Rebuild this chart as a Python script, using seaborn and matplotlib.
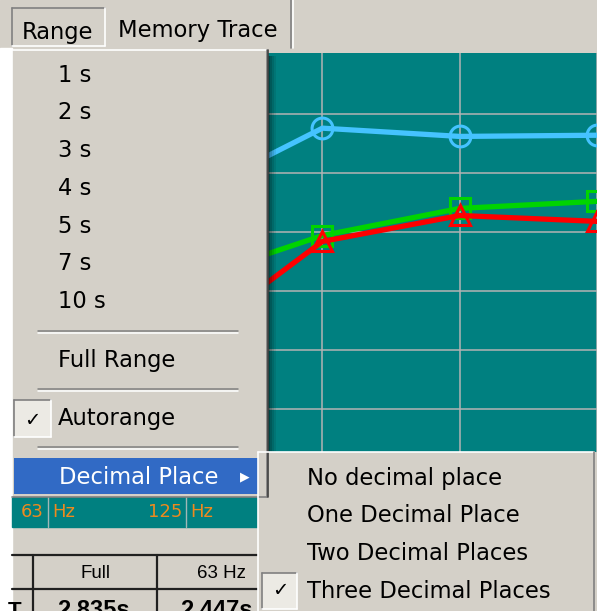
import numpy as np
import pandas as pd
import matplotlib
matplotlib.use("Agg")
import matplotlib.pyplot as plt
from matplotlib.patches import Rectangle
import seaborn as sns

# ------------------------------------------------------------------ #
# Dados (tempo de reverberação por banda de oitava, em segundos)
# ------------------------------------------------------------------ #
bandas = ["63 Hz", "125 Hz", "250 Hz", "500 Hz", "1 kHz"]
traco_azul = [2.45, 2.29, 2.88, 2.81, 2.82]
traco_verde = [1.35, 1.58, 1.97, 2.20, 2.26]
traco_vermelho = [0.80, 1.05, 1.92, 2.14, 2.09]
nomes_series = ["Current", "Memory 1", "Memory 2"]
cores_series = ["#45C3FF", "#00D400", "#FF0000"]
marcadores_series = ["o", "s", "^"]

itens_range = ["1 s", "2 s", "3 s", "4 s", "5 s", "7 s", "10 s"]
itens_decimal = ["No decimal place", "One Decimal Place",
                 "Two Decimal Places", "Three Decimal Places"]
cabecalho_tabela = ["Full", "63 Hz"]
valores_tabela = ["2.835s", "2.447s"]

W, H = 597, 611
CINZA = "#D4D0C8"
TEAL = "#008080"
AZUL_SEL = "#316AC5"
LARANJA = "#EE8A1E"
FS_MENU = 16.3


def caixa(x0, y0, x1, y1):
    """Converte pixels (origem no topo) em fração da figura."""
    return [x0 / W, 1 - y1 / H, (x1 - x0) / W, (y1 - y0) / H]


def ret(ax, x0, y0, x1, y1, **kw):
    ax.add_patch(Rectangle((x0, y0), x1 - x0, y1 - y0, **kw))


def moldura_3d(ax, x0, y0, x1, y1, elevada=True):
    claro, escuro = ("white", "#808080") if elevada else ("#808080", "white")
    ax.plot([x0, x1], [y0, y0], color=claro, lw=1.2)
    ax.plot([x0, x0], [y0, y1], color=claro, lw=1.2)
    ax.plot([x0, x1], [y1, y1], color=escuro, lw=1.2)
    ax.plot([x1, x1], [y0, y1], color=escuro, lw=1.2)


def eixo_pixels(zorder):
    a = fig.add_axes([0, 0, 1, 1], zorder=zorder)
    a.set_xlim(0, W)
    a.set_ylim(H, 0)
    a.axis("off")
    a.patch.set_alpha(0)
    return a


sns.set_theme(style="white")
plt.rcParams["font.family"] = ["DejaVu Sans"]
plt.rcParams["text.color"] = "black"

fig = plt.figure(figsize=(W / 100, H / 100), dpi=100)

# ------------------------------------------------------------------ #
# Fundo da janela
# ------------------------------------------------------------------ #
fundo = eixo_pixels(0)
ret(fundo, 0, 0, W, H, color=CINZA)
ret(fundo, 0, 48, 12, H, color="white")
# abas do menu
moldura_3d(fundo, 12, 8, 105, 46, elevada=False)
fundo.text(22, 33, "Range", fontsize=FS_MENU, ha="left", va="center")
fundo.text(118, 31, "Memory Trace", fontsize=FS_MENU, ha="left", va="center")
fundo.plot([291, 291], [0, 48], color="#808080", lw=1.2)
fundo.plot([293, 293], [0, 48], color="white", lw=1.2)
# faixa de rótulos das bandas
ret(fundo, 12, 497, 258, 527, color=TEAL)
for xs in [48, 186]:
    fundo.plot([xs, xs], [497, 527], color="#9FB8B8", lw=1)
fundo.text(44, 512, "63", fontsize=13, color=LARANJA, ha="right", va="center")
fundo.text(52, 512, "Hz", fontsize=13, color=LARANJA, ha="left", va="center")
fundo.text(182, 512, "125", fontsize=13, color=LARANJA, ha="right", va="center")
fundo.text(190, 512, "Hz", fontsize=13, color=LARANJA, ha="left", va="center")
# tabela de resultados
fundo.plot([12, 258], [555, 555], color="#202020", lw=1.6)
fundo.plot([12, 258], [589, 589], color="#202020", lw=1.6)
for xs in [33, 157]:
    fundo.plot([xs, xs], [555, H], color="#202020", lw=1.6)
fundo.text(95, 578, cabecalho_tabela[0], fontsize=13.5, family="Liberation Sans",
           ha="center", va="baseline")
fundo.text(246, 578, cabecalho_tabela[1], fontsize=13.5, family="Liberation Sans",
           ha="right", va="baseline")
fundo.text(8, 617, "T", fontsize=16, weight="bold", family="Liberation Sans",
           ha="left", va="baseline")
fundo.text(93, 617, valores_tabela[0], fontsize=17, weight="bold",
           family="Liberation Sans", ha="center", va="baseline")
fundo.text(253, 617, valores_tabela[1], fontsize=17, weight="bold",
           family="Liberation Sans", ha="right", va="baseline")

# ------------------------------------------------------------------ #
# Gráfico (atrás dos menus)
# ------------------------------------------------------------------ #
ax = fig.add_axes(caixa(12, 53, 597, 452), zorder=1)
ax.set_facecolor(TEAL)

x_oit = np.arange(len(bandas))
df = pd.DataFrame({
    "banda": np.tile(x_oit, 3),
    "T": traco_azul + traco_verde + traco_vermelho,
    "serie": np.repeat(nomes_series, len(bandas)),
})

sns.lineplot(
    data=df, x="banda", y="T", hue="serie", style="serie",
    hue_order=nomes_series, style_order=nomes_series,
    palette=dict(zip(nomes_series, cores_series)),
    markers=dict(zip(nomes_series, marcadores_series)),
    dashes=False, linewidth=3.8, markersize=15,
    markerfacecolor="none", markeredgewidth=2.2,
    legend=False, ax=ax,
)
for ln, cor in zip(ax.get_lines(), cores_series):
    ln.set_markeredgecolor(cor)

px_oit = 138.0
ax.set_xlim((12 - 48) / px_oit, (597 - 48) / px_oit)
ax.set_ylim(3.0 - (452 - 114) / 118, 3.0 + (114 - 53) / 118)
ax.set_xticks(x_oit)
ax.set_yticks(np.arange(0.5, 3.01, 0.5))
ax.grid(True, color="#B4B4B4", lw=1.1)
ax.set_axisbelow(True)
ax.tick_params(length=0, labelbottom=False, labelleft=False)
ax.set_xlabel("")
ax.set_ylabel("")
for sp in ax.spines.values():
    sp.set_visible(False)

# ------------------------------------------------------------------ #
# Menus sobrepostos
# ------------------------------------------------------------------ #
menu = eixo_pixels(2)
# sombra do menu sobre o gráfico
for i, a in enumerate([0.45, 0.3, 0.18, 0.08]):
    ret(menu, 268 + i * 2, 56, 270 + i * 2, 452, color="black", alpha=a, lw=0)

ret(menu, 12, 50, 268, 497, color=CINZA, lw=0)
moldura_3d(menu, 12, 50, 267, 497)
menu.plot([268, 268], [50, 497], color="#404040", lw=1.2)

for i, txt in enumerate(itens_range):
    menu.text(58, 75 + i * 37.8, txt, fontsize=FS_MENU, ha="left", va="center")
for ys in [331, 389, 447]:
    menu.plot([38, 238], [ys, ys], color="#808080", lw=1.1)
    menu.plot([38, 238], [ys + 1.5, ys + 1.5], color="white", lw=1.1)
menu.text(58, 361, "Full Range", fontsize=FS_MENU, ha="left", va="center")
menu.text(58, 419, "Autorange", fontsize=FS_MENU, ha="left", va="center")
ret(menu, 14, 400, 51, 437, color="#ECEAE4", lw=0)
moldura_3d(menu, 14, 400, 51, 437, elevada=False)
menu.text(32, 420, "✓", fontsize=14, weight="bold", ha="center", va="center")

ret(menu, 14, 458, 258, 494, color=AZUL_SEL, lw=0)
menu.text(59, 477, "Decimal Place", fontsize=FS_MENU, color="white",
          ha="left", va="center")
menu.text(245, 477, "▶", fontsize=9, color="white", ha="center", va="center")

# submenu de casas decimais
ret(menu, 258, 452, 596, H + 2, color=CINZA, lw=0)
moldura_3d(menu, 258, 452, 594, H + 2)
for i, txt in enumerate(itens_decimal):
    menu.text(307, 478 + i * 37.7, txt, fontsize=FS_MENU, ha="left", va="center")
ret(menu, 262, 573, 297, 609, color="#ECEAE4", lw=0)
moldura_3d(menu, 262, 573, 297, 609, elevada=False)
menu.text(280, 591, "✓", fontsize=14, weight="bold", ha="center", va="center")

fig.savefig("out.png", dpi=100)
plt.close(fig)
